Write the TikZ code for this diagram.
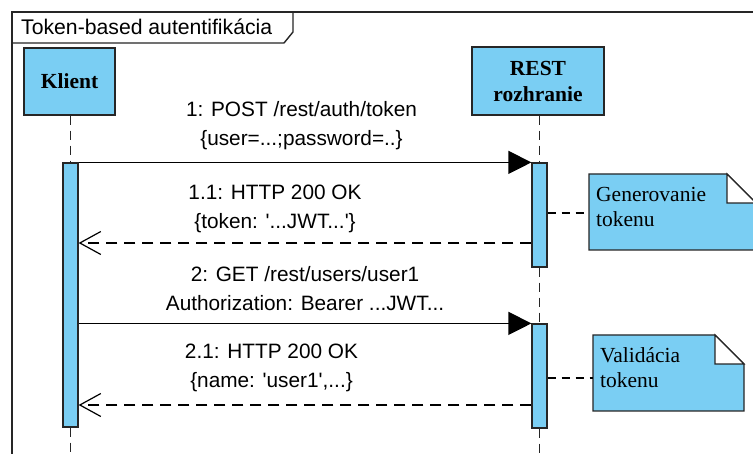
\documentclass[tikz,border=0pt]{standalone}
\usepackage{fontspec}
\setmainfont{Liberation Serif}
\setsansfont{Liberation Sans}
\usetikzlibrary{arrows.meta,backgrounds}
\definecolor{umlblue}{RGB}{122,206,243}
\newcommand{\sq}{\textquotesingle}
\begin{document}
\begin{tikzpicture}[x=1pt,y=-1pt,
  frame/.style={line width=1.4pt,draw=black!85},
  actor/.style={draw=black!85,line width=1.2pt,fill=umlblue,align=center,inner sep=0pt,
    font=\fontsize{21.5}{26}\selectfont\bfseries},
  bar/.style={draw=black!85,line width=1.2pt,fill=umlblue,minimum width=15pt,inner sep=0pt},
  life/.style={line width=1.2pt,draw=black!85,dash pattern=on 9pt off 6pt},
  msg/.style={line width=1.2pt,-{Triangle[length=23pt,width=23pt]}},
  ret/.style={line width=1.2pt,dash pattern=on 11pt off 7pt,-{Straight Barb[length=21pt,width=23pt,line width=1.2pt]}},
  lab/.style={font=\sffamily\fontsize{20.8}{29}\selectfont,align=center,inner sep=0pt},
  notetext/.style={font=\fontsize{21.5}{25}\selectfont,align=left,inner sep=0pt,anchor=north west},
  notecon/.style={line width=1.2pt,dash pattern=on 8pt off 6pt},
  note/.style={draw=black!85,line width=1.2pt,fill=umlblue}
]
\useasboundingbox (0,0) rectangle (753,454);
\clip (0,0) rectangle (753,454);
\fill[white] (0,0) rectangle (753,454);

% frame and title tab
\draw[frame] (12,470) -- (12,12) -- (770,12) -- (770,470);
\draw[frame] (293,12) -- (293,32) -- (284,43) -- (12,43);
\node[font=\sffamily\fontsize{21.2}{25}\selectfont,anchor=west,inner sep=0pt] (title) at (21,27) {Token-based autentifikácia};

% actors
\node[actor,minimum width=91pt,minimum height=67pt] (klient) at (69.5,81.5) {Klient};
\node[actor,minimum width=132pt,minimum height=68pt] (rest) at (538,81) {REST\\rozhranie};

% activation bars
\node[bar,minimum height=264pt] (kbar) at (70.5,295) {};
\node[bar,minimum height=104pt] (rbar1) at (539.5,215) {};
\node[bar,minimum height=104pt] (rbar2) at (539.5,376) {};
\coordinate (kend) at (70.5,460);
\coordinate (rend) at (539.5,460);

% lifelines
\draw[life] (klient.south -| kbar.north) -- (kbar.north);
\draw[life] (kbar.south) -- (kend);
\draw[life] (rest.south -| rbar1.north) -- (rbar1.north);
\draw[life] (rbar1.south) -- (rbar2.north);
\draw[life] (rbar2.south) -- (rend);

% messages
\draw[msg] (kbar.east |- rbar1.north) -- (rbar1.north west);
\draw[ret] (rbar1.west |- 0,243) -- (kbar.east |- 0,243);
\draw[msg] (kbar.east |- rbar2.north) -- (rbar2.north west);
\draw[ret] (rbar2.west |- 0,405) -- (kbar.east |- 0,405);

% labels
\node[lab] (l1) at (301.5,126) {1: POST /rest/auth/token\\\{user=...;password=..\}};
\node[lab] (l11) at (275,208.5) {1.1: HTTP 200 OK\\\{token: \sq...JWT...\sq\}};
\node[lab] (l2) at (305,289) {2: GET /rest/users/user1\\Authorization: Bearer ...JWT...};
\node[lab] (l21) at (271.5,368) {2.1: HTTP 200 OK\\\{name: \sq user1\sq,...\}};

% notes
\draw[note] (589,174) -- (727,174) -- (756,203) -- (756,250) -- (589,250) -- cycle;
\draw[line width=1.2pt,draw=black!85,fill=white] (727,174) -- (727,203) -- (756,203) -- cycle;
\node[notetext] (n1) at (596,187) {Generovanie\\tokenu};
\coordinate (n1w) at (589,213);

\draw[note] (593,335) -- (715,335) -- (744,364) -- (744,411) -- (593,411) -- cycle;
\draw[line width=1.2pt,draw=black!85,fill=white] (715,335) -- (715,364) -- (744,364) -- cycle;
\node[notetext] (n2) at (600,347) {Validácia\\tokenu};
\coordinate (n2w) at (593,378);

\draw[notecon] (rbar1.east |- n1w) -- (n1w);
\draw[notecon] (rbar2.east |- n2w) -- (n2w);
\end{tikzpicture}
\end{document}
